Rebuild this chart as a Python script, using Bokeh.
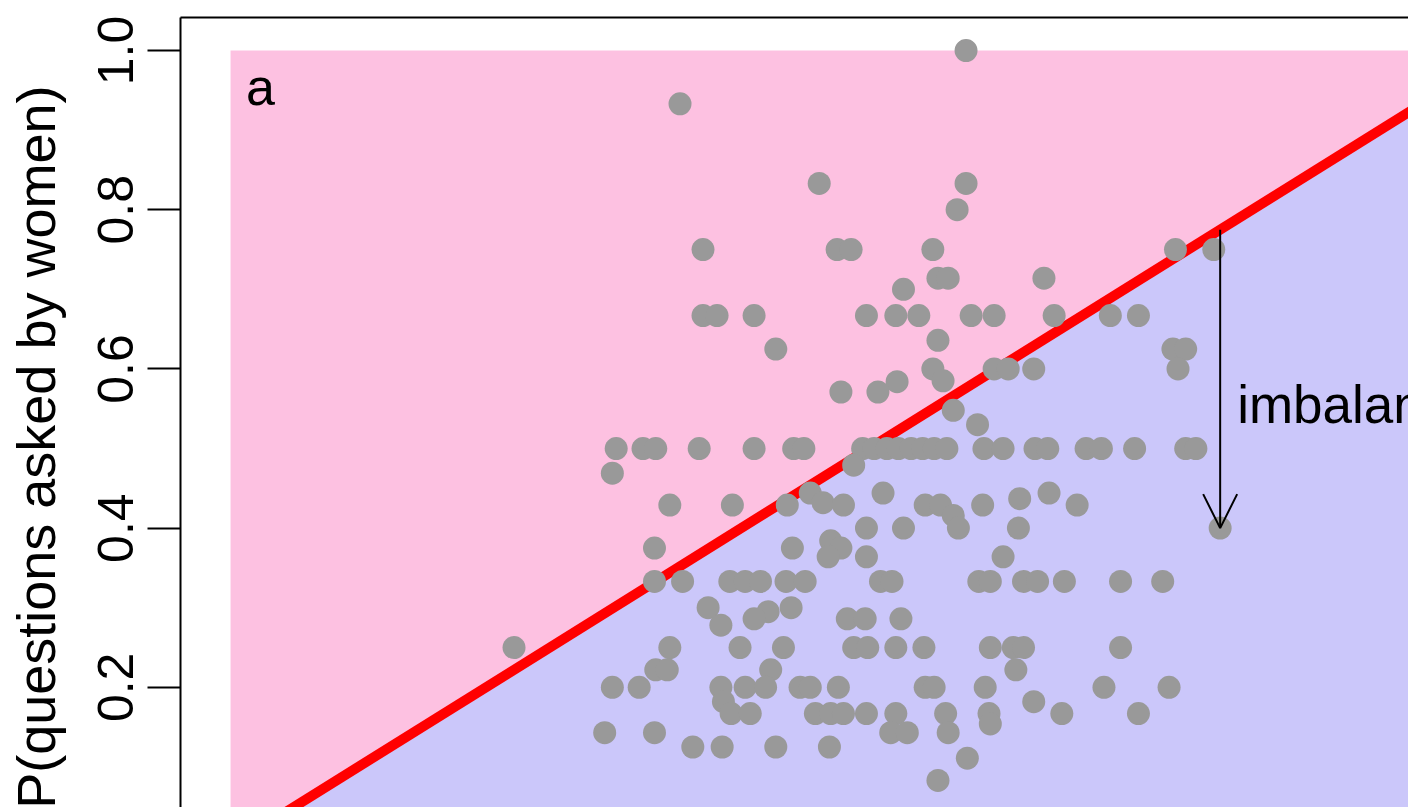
from bokeh.plotting import figure
from bokeh.models import (Range1d, LinearAxis, FixedTicker, PrintfTickFormatter,
                          Arrow, OpenHead, Title)
from bokeh.core.properties import value
from bokeh.embed import file_html
from bokeh.resources import INLINE

# P(women in audience) for each session (x) and P(questions asked by women) (y)
women_share = [
    0.576,
    0.352,
    0.461, 0.576,
    0.569,
    0.370, 0.475, 0.486, 0.550, 0.740, 0.770,
    0.554, 0.562, 0.637,
    0.527,
    0.370, 0.381, 0.410, 0.498, 0.521, 0.539, 0.580, 0.598, 0.645, 0.689, 0.711,
    0.554,
    0.427, 0.738, 0.748,
    0.550, 0.598, 0.609, 0.629, 0.742,
    0.522, 0.558,
    0.478, 0.507,
    0.566,
    0.585,
    0.302, 0.323, 0.333, 0.367, 0.410, 0.441, 0.449, 0.495, 0.504, 0.514, 0.523, 0.533,
    0.542, 0.551, 0.561, 0.590, 0.605, 0.630, 0.640, 0.670, 0.682, 0.708, 0.748, 0.756,
    0.488, 0.299,
    0.454, 0.511, 0.641,
    0.618, 0.464,
    0.344, 0.393, 0.436, 0.480, 0.544, 0.556, 0.589, 0.663,
    0.566,
    0.498, 0.527, 0.570, 0.617, 0.775,
    0.470,
    0.332, 0.440, 0.478,
    0.468, 0.498, 0.605,
    0.332, 0.354, 0.391, 0.403, 0.415, 0.435, 0.450, 0.509, 0.518, 0.586, 0.595, 0.621,
    0.632, 0.653, 0.697, 0.730,
    0.374, 0.439, 0.421,
    0.410, 0.483, 0.497, 0.525,
    0.384,
    0.222, 0.344, 0.399, 0.433, 0.488, 0.499, 0.521, 0.543, 0.595, 0.613, 0.621, 0.697,
    0.333, 0.342, 0.423, 0.615,
    0.299, 0.320, 0.384, 0.403, 0.419, 0.446, 0.454, 0.476, 0.544, 0.551, 0.591, 0.684, 0.735,
    0.386, 0.629,
    0.392, 0.407, 0.458, 0.470, 0.480, 0.498, 0.521, 0.560, 0.594, 0.651, 0.711,
    0.595,
    0.293, 0.332, 0.517, 0.530, 0.562,
    0.362, 0.385, 0.427, 0.469,
    0.577,
    0.554,
]

question_share = [
    1.000,
    0.933,
    0.833, 0.833,
    0.800,
    0.750, 0.750, 0.750, 0.750, 0.750, 0.750,
    0.714, 0.714, 0.714,
    0.700,
    0.667, 0.667, 0.667, 0.667, 0.667, 0.667, 0.667, 0.667, 0.667, 0.667, 0.667,
    0.636,
    0.625, 0.625, 0.625,
    0.600, 0.600, 0.600, 0.600, 0.600,
    0.584, 0.585,
    0.571, 0.571,
    0.548,
    0.530,
    0.500, 0.500, 0.500, 0.500, 0.500, 0.500, 0.500, 0.500, 0.500, 0.500, 0.500, 0.500,
    0.500, 0.500, 0.500, 0.500, 0.500, 0.500, 0.500, 0.500, 0.500, 0.500, 0.500, 0.500,
    0.479, 0.469,
    0.444, 0.444, 0.444,
    0.437, 0.432,
    0.429, 0.429, 0.429, 0.429, 0.429, 0.429, 0.429, 0.429,
    0.416,
    0.400, 0.400, 0.400, 0.400, 0.400,
    0.384,
    0.375, 0.375, 0.375,
    0.364, 0.364, 0.364,
    0.333, 0.333, 0.333, 0.333, 0.333, 0.333, 0.333, 0.333, 0.333, 0.333, 0.333, 0.333,
    0.333, 0.333, 0.333, 0.333,
    0.300, 0.300, 0.295,
    0.286, 0.286, 0.286, 0.286,
    0.278,
    0.250, 0.250, 0.250, 0.250, 0.250, 0.250, 0.250, 0.250, 0.250, 0.250, 0.250, 0.250,
    0.222, 0.222, 0.222, 0.222,
    0.200, 0.200, 0.200, 0.200, 0.200, 0.200, 0.200, 0.200, 0.200, 0.200, 0.200, 0.200, 0.200,
    0.182, 0.182,
    0.167, 0.167, 0.167, 0.167, 0.167, 0.167, 0.167, 0.167, 0.167, 0.167, 0.167,
    0.154,
    0.143, 0.143, 0.143, 0.143, 0.143,
    0.125, 0.125, 0.125, 0.125,
    0.111,
    0.083,
]

y_ticks = [0.0, 0.2, 0.4, 0.6, 0.8, 1.0]
y_title = "P(questions asked by women)"
panel_tag = "a"
panel_tag_xy = (0.012, 0.954)
unit_lo, unit_hi = 0.0, 1.0          # extent of the probability square
example_x, example_y = 0.775, 0.400  # session used to illustrate imbalance
arrow_text = "imbalance"

FONT = "Liberation Sans"
PINK = "#fdc1e1"
BLUE = "#cbc7fa"
GREY = "#999999"

p = figure(width=1408, height=807, output_backend="svg", toolbar_location=None,
           x_range=Range1d(-0.0392, 0.9225), y_range=Range1d(0.049, 1.0415),
           min_border_left=180, min_border_top=17, min_border_right=0,
           min_border_bottom=0, x_axis_location=None, y_axis_location=None)
p.outline_line_color = None
p.grid.visible = False
p.background_fill_color = "white"
p.border_fill_color = "white"

# left axis
yax = LinearAxis(ticker=FixedTicker(ticks=y_ticks),
                 formatter=PrintfTickFormatter(format="%.1f"))
yax.major_label_orientation = "vertical"
yax.major_tick_out = 33
yax.major_tick_in = 0
yax.minor_tick_out = 0
yax.minor_tick_in = 0
yax.axis_line_width = 2
yax.major_tick_line_width = 2
yax.major_label_text_font = FONT
yax.major_label_text_font_size = "50px"
yax.major_label_text_color = "black"
yax.major_label_standoff = 14
yax.axis_label = " "
yax.axis_label_text_font_size = "1px"
yax.axis_label_standoff = 26
p.add_layout(yax, "left")

p.add_layout(Title(text=y_title, align="right", offset=68, text_font=FONT,
                   text_font_size="54px", text_font_style="normal",
                   text_color="black", standoff=0), "left")

# top frame line
top = LinearAxis(ticker=FixedTicker(ticks=[]), major_tick_out=0, major_tick_in=0,
                 minor_tick_out=0, minor_tick_in=0, axis_line_width=2,
                 major_label_standoff=0)
p.add_layout(top, "above")

# shaded regions
p.quad(left=[unit_lo], right=[unit_hi], bottom=[unit_lo], top=[unit_hi],
       fill_color=PINK, line_color=None)
p.patch([unit_lo, unit_hi, unit_hi], [unit_lo, unit_lo, unit_hi],
        fill_color=BLUE, line_color=None)

# balance line
p.line([unit_lo, unit_hi], [unit_lo, unit_hi], line_color="#ff0000", line_width=10)

# sessions
p.scatter(women_share, question_share, size=23, fill_color=GREY, line_color=None)

# imbalance arrow
p.add_layout(Arrow(end=OpenHead(size=34, line_width=2, line_color="black"),
                   x_start=example_x, y_start=example_x,
                   x_end=example_x, y_end=example_y,
                   line_width=2, line_color="black"))
p.text(x=[example_x], y=[(example_x + example_y) / 2], text=[arrow_text],
       x_offset=17, y_offset=26, text_font=value(FONT), text_font_size="53px",
       text_baseline="alphabetic", text_align="left", text_color="black")

p.text(x=[panel_tag_xy[0]], y=[panel_tag_xy[1]], text=[panel_tag],
       text_font=value(FONT), text_font_size="52px", text_baseline="alphabetic",
       text_align="left", text_color="black")

open("out.html", "w").write(file_html(p, INLINE))
